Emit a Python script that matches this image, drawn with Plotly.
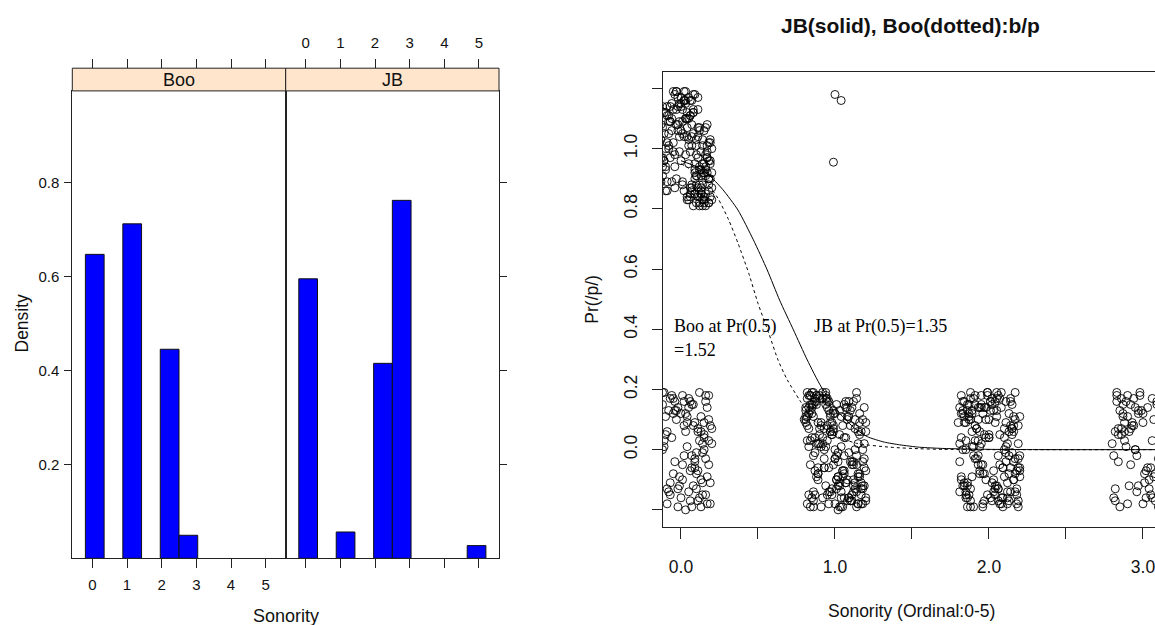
import plotly.graph_objects as go

W, H = 1155, 625

# ---------------- data: left lattice histogram (density) ----------------
panel_names = ["Boo", "JB"]
hist_breaks = [-0.2, 0.34, 0.88, 1.42, 1.96, 2.5, 3.04, 3.58, 4.12, 4.66, 5.2]
boo_density = [0.647, 0, 0.712, 0, 0.445, 0.049, 0, 0, 0, 0]
jb_density = [0.595, 0, 0.056, 0, 0.415, 0.762, 0, 0, 0, 0.027]
sonority_ticks = [0, 1, 2, 3, 4, 5]
density_ticks = [0.2, 0.4, 0.6, 0.8]

# ---------------- data: right logistic plot ----------------
# jittered observations (x = sonority, y = response), read from the picture
a_bot_x = [-0.12,-0.05,0.03,0.11,0.18,-0.09,0.01,0.07,0.15,-0.02,
           0.13,0.19,-0.11,0.05,0.09,-0.07,0.16,0.02,-0.04,0.12,
           0.08,-0.10,0.17,0.04,-0.01,0.14,0.06,-0.08,0.20,0.10,
           -0.03,0.00,0.15,-0.06,0.11,0.18,0.03,-0.12,0.07,0.13,
           -0.09,0.16,0.05,-0.02,0.09,0.19,-0.05,0.12,0.01,-0.11,
           0.14,0.08,-0.07,0.17,0.04,0.10,-0.04,0.06,0.15,-0.10,
           0.02,0.18,-0.01,0.11,0.07,-0.08,0.13,0.20,-0.03,0.05,
           0.16,0.09,-0.06,0.12,0.00,0.17,-0.12,0.03,0.14,0.08,
           -0.09,0.19,0.06,-0.02,0.10,0.15,-0.05,0.01,0.13,0.18,
           -0.11,0.07,0.04,0.16,-0.07,0.11,0.09,-0.04,0.14,0.02]
a_bot_y = [0.15,-0.08,0.12,-0.17,0.03,-0.13,0.18,-0.02,0.09,-0.19,
           0.06,-0.11,0.01,0.14,-0.06,0.17,-0.15,0.08,-0.04,0.19,
           -0.12,0.05,-0.18,0.11,-0.09,0.02,0.16,-0.14,0.07,-0.01,
           0.13,-0.16,0.04,0.18,-0.07,0.10,-0.20,0.00,0.15,-0.10,
           0.06,-0.03,0.17,-0.13,0.09,-0.18,0.12,0.03,-0.05,0.19,
           -0.15,0.08,-0.11,0.14,0.01,-0.08,0.16,-0.17,0.05,0.11,
           -0.02,0.18,-0.12,0.07,-0.06,0.13,-0.19,0.02,0.10,-0.14,
           0.16,-0.04,0.04,-0.16,0.12,-0.09,0.19,0.06,-0.01,0.15,
           -0.18,0.08,-0.07,0.14,-0.13,0.00,0.17,-0.10,0.11,-0.05,
           0.03,-0.19,0.09,0.18,-0.15,0.06,-0.03,0.13,-0.11,0.16]

a_top_x = [-0.10,0.02,0.14,-0.04,0.09,0.18,-0.12,0.06,0.12,-0.01,
           0.16,-0.08,0.04,0.10,0.19,-0.03,0.07,-0.11,0.13,0.01,
           0.08,-0.06,0.17,0.03,-0.09,0.11,0.15,-0.02,0.05,0.20,
           -0.13,0.09,0.00,0.14,-0.05,0.18,0.06,-0.10,0.12,0.03,
           0.16,-0.07,0.10,0.01,-0.12,0.19,0.07,-0.03,0.13,0.04,
           -0.08,0.15,0.08,-0.01,0.11,0.17,-0.11,0.05,0.02,0.14,
           0.09,-0.04,0.18,0.06,-0.09,0.12,0.00,0.16,-0.06,0.10,
           0.03,0.19,-0.13,0.07,0.13,-0.02,0.15,0.04,-0.10,0.11,
           0.17,-0.05,0.08,0.01,0.14,-0.12,0.06,0.20,-0.07,0.12,
           0.02,0.10,-0.03,0.18,0.05,-0.11,0.13,0.09,-0.01,0.16,
           -0.09,0.07,0.15,0.00,0.11,-0.06,0.19,0.04,-0.13,0.08,
           0.14,-0.02,0.06,0.17,-0.08,0.12,0.03,-0.04,0.10,0.18,
           -0.11,0.05,0.13,0.01,0.16,-0.07,0.09,0.20,-0.03,0.07,
           0.12,-0.10,0.02,0.15,0.08,-0.05,0.18,0.04,-0.12,0.11,
           0.06,0.17,-0.01,0.10,-0.09,0.14,0.03,0.19,-0.06,0.13,
           0.00,0.09,-0.13,0.16,0.05,-0.04,0.12,0.07,0.18,-0.08,
           0.01,0.15,-0.07,0.11,0.04,0.19,-0.10,0.08,0.13,-0.02,
           0.17,0.06,-0.12,0.10,0.02,0.14,-0.05,0.09,0.18,0.03,
           -0.08,0.12,0.07,-0.03,0.16,0.00,0.11,-0.09,0.05,0.20]
a_top_y = [1.12,0.86,1.03,0.94,1.18,0.82,1.07,0.99,0.88,1.15,
           0.91,1.09,0.84,1.01,0.96,1.19,0.87,1.05,0.93,1.13,
           0.81,1.10,0.97,1.16,0.89,1.04,0.83,1.14,0.95,1.00,
           1.08,0.85,1.17,0.92,1.02,0.90,1.11,0.86,1.06,0.98,
           0.94,1.14,0.82,1.09,0.97,1.03,0.88,1.19,0.91,1.12,
           1.05,0.84,1.13,0.99,0.87,1.08,0.96,1.01,1.16,0.83,
           0.90,1.18,1.02,0.85,1.11,0.93,1.06,0.81,1.15,0.98,
           1.10,0.95,0.89,1.04,0.86,1.17,0.92,1.07,1.00,0.84,
           0.97,1.13,1.05,0.88,1.01,0.94,1.16,0.87,1.09,0.82,
           1.19,0.91,1.08,0.96,0.83,1.12,0.99,0.85,1.04,0.93,
           1.02,0.86,0.95,1.14,1.07,0.89,0.84,1.10,0.97,1.18,
           0.88,1.06,1.11,0.92,1.00,0.81,1.15,0.98,1.03,0.90,
           0.96,1.17,0.87,1.05,0.85,1.09,0.93,0.83,1.13,1.01,
           1.07,0.94,1.16,0.82,1.12,0.99,0.86,1.04,0.91,0.97,
           0.84,1.01,1.09,0.88,1.14,0.95,1.19,0.90,1.06,0.85,
           1.15,0.92,1.03,0.98,1.10,0.87,0.94,1.08,0.82,1.11,
           0.89,1.06,0.97,1.17,0.83,1.02,0.93,1.12,0.85,1.08,
           0.99,0.87,1.14,0.91,1.04,0.81,1.19,0.95,0.88,1.10,
           1.01,0.84,1.16,0.90,1.07,0.96,1.13,0.86,1.03,0.92]

b_x = [0.84,1.12,0.95,1.18,0.89,1.03,0.81,1.09,0.97,1.15,
       1.06,0.86,1.20,0.92,1.01,0.83,1.14,0.99,1.08,0.88,
       0.94,1.17,0.82,1.05,0.90,1.11,0.98,1.19,0.85,1.02,
       1.13,0.87,1.07,0.93,1.16,0.80,1.00,1.10,0.96,0.84,
       1.04,0.91,1.18,0.86,1.12,0.97,0.83,1.06,1.15,0.89,
       0.99,1.09,0.82,1.14,0.95,1.02,0.87,1.20,0.92,1.07,
       0.85,1.11,1.00,0.90,1.17,0.81,1.05,0.96,1.13,0.88,
       1.16,0.94,1.03,0.84,1.08,0.98,1.19,0.86,1.01,0.93,
       0.89,1.14,0.82,1.10,0.97,1.06,0.91,1.18,0.85,1.04,
       1.12,0.88,0.99,1.15,0.83,1.02,1.09,0.95,1.20,0.87,
       0.96,1.07,0.84,1.13,0.90,1.17,1.00,0.81,1.11,0.94,
       1.05,0.92,1.19,0.86,1.03,0.98,1.14,0.89,1.08,0.82,
       0.93,1.16,1.01,0.87,1.10,0.95,0.84,1.12,0.99,1.18,
       0.88,1.04,0.97,1.15,0.83,1.07,0.91,1.20,1.00,0.86,
       1.13,0.85,1.06,0.94,1.17,0.90,1.02,0.82,1.09,0.98,
       0.81,1.11,0.96,1.03,0.88,1.16,0.93,1.05,0.85,1.14,
       1.08,0.97,0.84,1.19,1.01,0.89,1.12,0.95,1.06,0.83,
       0.92,1.15,1.04,0.87,0.99,1.10,0.86,1.18,0.94,1.02,
       0.93,1.08,0.86,1.16,1.01,0.90,1.12,0.84,1.05,0.97,
       1.19,0.88,1.03,0.95,1.14,0.82,1.09,0.99,0.87,1.17,
       1.02,0.92,1.11,0.85,1.06,0.96,1.18,0.89,1.00,1.13,
       0.83,1.07,0.94,1.15,0.91,1.04,0.81,1.10,0.98,1.20]
b_y = [0.13,-0.05,0.17,-0.18,0.02,-0.11,0.09,0.16,-0.14,0.06,
       -0.08,0.19,-0.16,0.04,-0.02,0.12,-0.19,0.08,-0.10,0.15,
       0.01,-0.13,0.11,-0.07,0.18,-0.17,0.05,-0.03,0.14,-0.12,
       0.07,-0.15,0.16,0.00,-0.09,0.10,-0.18,0.13,-0.06,0.03,
       -0.19,0.09,-0.04,0.15,-0.12,0.06,0.18,-0.16,0.02,-0.08,
       0.12,-0.01,0.19,-0.14,0.08,-0.20,0.04,-0.07,0.17,-0.11,
       -0.16,0.14,-0.03,0.07,-0.18,0.11,-0.09,0.16,0.00,0.18,
       0.05,-0.12,0.13,-0.05,0.10,-0.15,0.02,-0.19,0.15,-0.06,
       -0.10,0.17,0.03,-0.17,0.12,-0.02,0.08,-0.13,0.19,0.01,
       0.16,-0.09,0.06,-0.18,0.14,-0.04,0.11,-0.15,0.09,-0.07,
       -0.14,0.04,-0.19,0.10,0.17,-0.11,0.00,0.13,-0.05,0.18,
       0.08,-0.16,0.14,-0.02,0.05,-0.13,0.19,-0.08,0.11,-0.18,
       -0.06,0.12,-0.10,0.16,-0.17,0.03,0.15,-0.04,0.07,-0.12,
       0.18,-0.14,0.09,-0.09,0.01,0.14,-0.19,0.06,-0.03,0.11,
       -0.11,0.15,-0.07,0.19,-0.15,0.02,-0.01,0.17,-0.16,0.05,
       0.10,-0.04,0.13,-0.12,0.16,-0.08,0.07,-0.19,0.12,-0.02,
       -0.17,0.06,0.18,-0.06,-0.13,0.09,-0.10,0.14,0.04,-0.15,
       0.02,-0.18,0.11,0.17,-0.05,0.08,-0.14,0.00,0.15,-0.09,
       -0.03,0.14,-0.17,0.09,-0.10,0.05,-0.14,0.18,-0.07,0.11,
       -0.12,0.02,-0.19,0.16,-0.05,0.08,-0.16,0.13,-0.01,0.06,
       -0.09,0.19,-0.15,0.04,0.15,-0.18,0.10,-0.06,0.12,-0.13,
       0.07,-0.11,0.17,-0.08,0.01,-0.16,0.14,-0.04,0.09,-0.17]
b_top_x = [0.99, 1.00, 1.04]
b_top_y = [0.955, 1.18, 1.16]

c_x = [1.83,2.14,1.96,2.19,1.88,2.05,1.81,2.10,1.99,2.17,
       2.07,1.86,2.20,1.93,2.02,1.84,2.15,1.97,2.09,1.90,
       1.95,2.18,1.82,2.04,1.91,2.12,2.00,2.16,1.87,2.03,
       2.11,1.89,2.06,1.94,2.19,1.80,2.01,2.13,1.98,1.85,
       2.08,1.92,2.17,1.86,2.14,1.97,1.83,2.05,2.20,1.88,
       1.99,2.10,1.82,2.15,1.95,2.03,1.89,2.18,1.93,2.07,
       1.85,2.12,2.00,1.91,2.16,1.81,2.06,1.96,2.13,1.87,
       2.17,1.94,2.04,1.84,2.09,1.98,2.19,1.86,2.02,1.92,
       1.90,2.14,1.83,2.11,1.97,2.07,1.88,2.20,1.85,2.05,
       2.13,1.87,2.01,2.16,1.82,2.03,2.10,1.95,2.18,1.89,
       1.96,2.08,1.84,2.12,1.91,2.17,2.00,1.81,2.14,1.94,
       2.06,1.93,2.19,1.86,2.04,1.99,2.15,1.88,2.09,1.83,
       1.92,2.16,2.02,1.87,2.11,1.95,1.84,2.13,1.98,2.19,
       1.88,2.05,1.97,2.15,1.83,2.08,1.91,2.20,2.01,1.86,
       2.12,1.85,2.07,1.94,2.17,1.90,2.03,1.82,2.10,1.99,
       1.81,2.11,1.96,2.04,1.89,2.16,1.93,2.06,1.85,2.14,
       1.87,2.09,1.95,2.18,1.82,2.02,2.13,1.90,2.06,1.98,
       2.15,1.85,2.01,1.93,2.19,1.88,2.11,1.96,2.04,1.84,
       2.08,1.91,2.16,1.86,2.00,2.12,1.94,2.20,1.89,2.05]
c_y = [-0.12,0.16,-0.05,0.08,-0.17,0.13,0.02,-0.09,0.19,-0.14,
       0.05,-0.19,0.11,-0.02,0.17,-0.11,0.07,0.14,-0.16,0.01,
       0.18,-0.07,0.12,-0.15,0.03,-0.18,0.10,-0.04,0.15,-0.10,
       -0.01,0.13,-0.13,0.06,-0.19,0.09,0.16,-0.08,0.04,-0.16,
       0.14,-0.03,0.19,-0.12,0.08,-0.17,0.00,0.11,-0.06,0.17,
       -0.15,0.07,-0.09,0.15,0.02,-0.14,0.12,-0.18,0.10,-0.05,
       0.09,-0.16,0.04,0.18,-0.10,0.14,-0.02,-0.19,0.06,0.12,
       -0.08,0.01,-0.13,0.16,-0.06,0.10,-0.17,0.15,-0.11,0.07,
       0.17,-0.14,0.13,-0.04,0.05,-0.18,0.19,-0.09,0.03,-0.12,
       -0.02,0.11,-0.16,0.08,0.18,-0.07,0.00,0.14,-0.15,0.06,
       0.12,-0.18,0.09,-0.11,0.15,-0.03,0.04,-0.14,0.17,-0.08,
       -0.17,0.03,-0.06,0.13,-0.12,0.18,-0.01,0.10,-0.19,0.16,
       0.07,-0.10,0.15,-0.15,0.01,-0.05,0.11,-0.17,0.14,-0.03,
       -0.13,0.19,-0.08,0.05,0.12,-0.16,0.08,-0.02,0.16,-0.11,
       0.02,-0.14,0.17,-0.07,0.10,-0.19,0.13,-0.10,0.04,0.19,
       -0.04,0.09,-0.18,0.16,-0.09,0.06,0.14,-0.13,0.00,-0.06,
       0.10,-0.06,0.15,-0.13,0.04,-0.17,0.12,-0.02,0.18,-0.10,
       0.07,-0.15,0.13,-0.05,0.02,-0.19,0.16,-0.08,0.09,-0.12,
       0.19,-0.03,0.11,-0.16,0.05,-0.14,0.14,-0.07,0.01,0.17]

d_x = [2.83,3.12,2.95,3.05,2.88,3.17,2.81,3.00,2.92,3.09,
       3.14,2.86,3.02,2.97,2.84,3.19,2.90,3.07,2.99,2.82,
       2.94,3.10,2.87,3.03,3.16,2.91,2.80,3.06,2.96,3.13,
       3.01,2.85,3.18,2.93,3.08,2.89,3.04,2.82,2.98,3.15,
       2.87,3.11,2.95,2.83,3.02,3.20,2.90,3.06,2.86,2.97,
       3.09,2.92,3.14,2.81,3.00,2.88,3.17,2.94,3.04,2.84,
       2.96,3.07,2.85,3.12,2.91,3.01,2.83,3.16,2.89,3.03,
       3.19,2.93,2.87,3.08,2.98,2.82,3.11,2.90,3.05,2.95,
       2.86,3.13,3.00,2.92,3.18,2.84,3.06,2.97,3.10,2.88]
d_y = [0.19,-0.07,0.14,-0.15,0.03,0.10,-0.02,-0.18,0.07,0.16,
       -0.11,0.05,-0.16,0.12,-0.04,0.01,0.18,-0.09,0.13,-0.13,
       0.08,-0.19,0.15,-0.06,0.11,-0.12,0.02,0.17,-0.14,0.04,
       -0.08,0.13,-0.03,0.09,-0.17,0.16,-0.10,0.06,0.19,-0.01,
       0.11,-0.14,0.00,0.18,-0.07,0.14,-0.18,0.03,0.07,-0.12,
       0.15,-0.05,0.02,-0.16,0.12,0.09,-0.09,0.17,-0.13,0.05,
       -0.02,0.10,-0.19,0.13,0.06,-0.11,0.16,-0.04,0.01,0.14,
       -0.15,0.08,0.12,-0.08,0.18,-0.17,0.04,0.11,-0.06,0.00,
       0.17,-0.12,0.09,0.15,-0.10,0.07,-0.16,0.13,-0.03,0.06]

# fitted curves
jb_curve_x = [0.0, 0.1, 0.18, 0.27, 0.37, 0.47, 0.56, 0.64, 0.73, 0.82, 0.91,
              1.03, 1.13, 1.21, 1.32, 1.42, 1.55, 1.7, 2.0, 2.5, 3.0, 4.0, 5.0]
jb_curve_y = [0.96, 0.94, 0.913, 0.865, 0.796, 0.697, 0.597, 0.497, 0.398, 0.298, 0.209,
              0.121, 0.07, 0.043, 0.025, 0.016, 0.008, 0.004, 0.001, 0.0, 0.0, 0.0, 0.0]
boo_curve_x = [0.0, 0.08, 0.17, 0.24, 0.31, 0.37, 0.44, 0.50, 0.57, 0.63, 0.69,
               0.77, 0.86, 0.99, 1.14, 1.36, 1.55, 1.7, 2.0, 3.0, 5.0]
boo_curve_y = [0.95, 0.925, 0.885, 0.835, 0.763, 0.686, 0.586, 0.486, 0.387, 0.298, 0.232,
               0.165, 0.099, 0.049, 0.021, 0.008, 0.003, 0.001, 0.0, 0.0, 0.0]

right_xticks = [0, 0.5, 1, 1.5, 2, 2.5, 3]
right_xticklabels = ["0.0", "", "1.0", "", "2.0", "", "3.0"]
right_yticks = [-0.2, 0, 0.2, 0.4, 0.6, 0.8, 1.0, 1.2]
right_yticklabels = ["", "0.0", "0.2", "0.4", "0.6", "0.8", "1.0", ""]

# ---------------- layout helpers (pixels -> paper) ----------------
def px(xp):
    return xp / W

def py(yp):
    return 1 - yp / H

NARROW = "Liberation Sans Narrow, Arial Narrow, Liberation Sans, Arial, sans-serif"
SANS = "Liberation Sans, Arial, sans-serif"
SERIF = "Liberation Serif, Times New Roman, serif"
LINE = "#222222"

boo_dom = [px(72.3), px(285.7)]
jb_dom = [px(285.7), px(499.0)]
left_ydom = [py(558.3), py(90.9)]
strip_top = py(68.2)
right_xdom = [px(662.7), 1.0]
right_ydom = [py(526.7), py(71.6)]

fig = go.Figure()

# histogram bars
bin_centers = [(a + b) / 2 for a, b in zip(hist_breaks[:-1], hist_breaks[1:])]
bin_widths = [b - a for a, b in zip(hist_breaks[:-1], hist_breaks[1:])]
for dens, xa, ya in [(boo_density, "x", "y"), (jb_density, "x2", "y2")]:
    keep = [i for i, d in enumerate(dens) if d > 0]
    fig.add_trace(go.Bar(
        x=[bin_centers[i] for i in keep], y=[dens[i] for i in keep],
        width=[bin_widths[i] for i in keep],
        marker=dict(color="#0000FF", line=dict(color="#111111", width=1)),
        xaxis=xa, yaxis=ya, showlegend=False, hoverinfo="skip"))

# invisible traces to activate the top (overlay) axes
for xa, ya in [("x4", "y"), ("x5", "y2")]:
    fig.add_trace(go.Scatter(x=[0, 5], y=[-1, -1], xaxis=xa, yaxis=ya,
                             mode="markers", marker=dict(opacity=0),
                             showlegend=False, hoverinfo="skip"))

# scatter points
all_x = a_bot_x + a_top_x + b_x + b_top_x + c_x + d_x
all_y = a_bot_y + a_top_y + b_y + b_top_y + c_y + d_y
fig.add_trace(go.Scatter(
    x=all_x, y=all_y, mode="markers", xaxis="x3", yaxis="y3",
    marker=dict(symbol="circle-open", size=8, color="black", line=dict(width=0.9, color="black")),
    showlegend=False, hoverinfo="skip"))

# curves
fig.add_trace(go.Scatter(x=jb_curve_x, y=jb_curve_y, mode="lines", xaxis="x3", yaxis="y3",
                         line=dict(color="black", width=1, shape="spline", smoothing=0.6),
                         showlegend=False, hoverinfo="skip"))
fig.add_trace(go.Scatter(x=boo_curve_x, y=boo_curve_y, mode="lines", xaxis="x3", yaxis="y3",
                         line=dict(color="black", width=1, dash="dot", shape="spline", smoothing=0.6),
                         showlegend=False, hoverinfo="skip"))

tickfont_left = dict(family=NARROW, size=15, color="#111111")
common = dict(showgrid=False, zeroline=False, showline=True, linecolor=LINE, linewidth=1,
              ticks="outside", tickcolor=LINE, tickwidth=1, automargin=False, fixedrange=True)

left_xrange = [-0.578, 5.578]
left_yrange = [0, 0.995]

fig.update_layout(
    width=W, height=H, margin=dict(l=0, r=0, t=0, b=0),
    paper_bgcolor="white", plot_bgcolor="white", template="none",
    xaxis=dict(common, domain=boo_dom, range=left_xrange, anchor="y", mirror=True,
               tickvals=sonority_ticks, ticklen=9, tickfont=tickfont_left, ticklabelstandoff=4),
    yaxis=dict(common, domain=left_ydom, range=left_yrange, anchor="x", mirror=True,
               tickvals=density_ticks, ticktext=[f"{v:.1f}" for v in density_ticks],
               ticklen=7, tickfont=tickfont_left, ticklabelstandoff=2),
    xaxis2=dict(common, domain=jb_dom, range=left_xrange, anchor="y2", mirror=True,
                tickvals=sonority_ticks, ticklen=9, showticklabels=False),
    yaxis2=dict(common, domain=left_ydom, range=left_yrange, anchor="x2", mirror=True, side="right",
                tickvals=density_ticks, ticklen=7, showticklabels=False),
    xaxis4=dict(common, overlaying="x", range=left_xrange, anchor="free", position=strip_top,
                side="top", showline=False, tickvals=sonority_ticks, ticklen=9, showticklabels=False),
    xaxis5=dict(common, overlaying="x2", range=left_xrange, anchor="free", position=strip_top,
                side="top", showline=False, tickvals=sonority_ticks, ticklen=9,
                tickfont=tickfont_left, ticklabelstandoff=5),
    xaxis3=dict(common, domain=right_xdom, range=[-0.1188, 3.078], anchor="y3", mirror=True,
                tickvals=right_xticks, ticktext=right_xticklabels, ticklen=11,
                ticklabeloverflow="allow",
                tickfont=dict(family=SANS, size=17.5, color="#111111"), ticklabelstandoff=13),
    yaxis3=dict(common, domain=right_ydom, range=[-0.256, 1.256], anchor="x3",
                tickvals=right_yticks, ticktext=right_yticklabels, ticklen=10, tickangle=-90,
                tickfont=dict(family=SANS, size=17.5, color="#111111"), ticklabelstandoff=8),
)

# strips
for dom, name in [(boo_dom, panel_names[0]), (jb_dom, panel_names[1])]:
    fig.add_shape(type="rect", xref="paper", yref="paper", x0=dom[0], x1=dom[1],
                  y0=left_ydom[1], y1=strip_top, fillcolor="#FFE5CC",
                  line=dict(color=LINE, width=1), layer="above")
    fig.add_annotation(x=(dom[0] + dom[1]) / 2, y=(left_ydom[1] + strip_top) / 2,
                       xref="paper", yref="paper", text=name, showarrow=False,
                       font=dict(family=NARROW, size=18, color="#111111"),
                       xanchor="center", yanchor="middle")

# axis titles
def title_note(xp, yp, text, size, angle=0, family=SANS):
    fig.add_annotation(x=px(xp), y=py(yp), xref="paper", yref="paper", text=text,
                       textangle=angle, showarrow=False, xanchor="center", yanchor="middle",
                       font=dict(family=family, size=size, color="#111111"))

title_note(21.5, 323, "Density", 17.5, -90)
title_note(285.5, 616, "Sonority", 18, 0, NARROW)
title_note(591.7, 299, "Pr(/p/)", 17.5, -90)
title_note(911.5, 610.5, "Sonority (Ordinal:0-5)", 17.5)
title_note(910, 26, "<b>JB(solid), Boo(dotted):b/p</b>", 21)

# in-plot labels
for xv, yv, txt in [(-0.06, 0.409, "Boo at Pr(0.5)"), (-0.06, 0.331, "=1.52"),
                    (0.849, 0.409, "JB at Pr(0.5)=1.35")]:
    fig.add_annotation(x=xv, y=yv, xref="x3", yref="y3", text=txt,
                       showarrow=False, xanchor="left", yanchor="middle",
                       font=dict(family=SERIF, size=18, color="black"))

fig.write_html("out.html")
